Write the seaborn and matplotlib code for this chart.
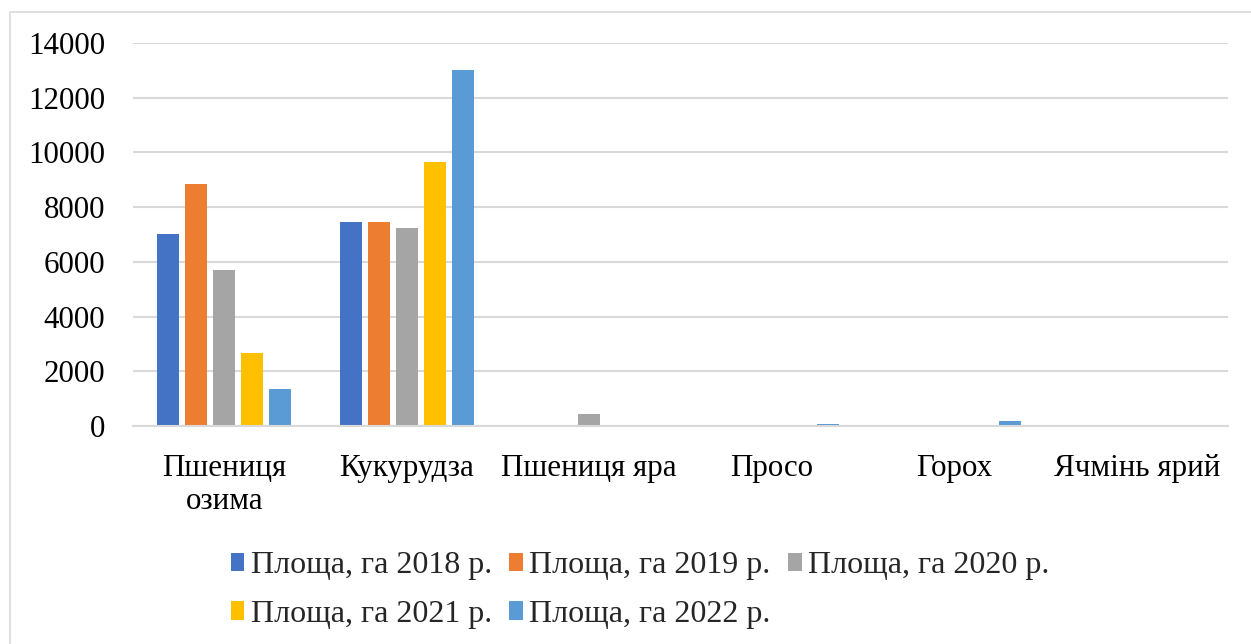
import matplotlib
matplotlib.use("Agg")
import matplotlib.pyplot as plt
import seaborn as sns
import pandas as pd
from matplotlib.patches import Rectangle

crops = ["Пшениця\nозима", "Кукурудза", "Пшениця яра", "Просо", "Горох", "Ячмінь ярий"]
series = ["Площа, га 2018 р.", "Площа, га 2019 р.", "Площа, га 2020 р.",
          "Площа, га 2021 р.", "Площа, га 2022 р."]
area_2018 = [7020, 7460, 0, 0, 0, 0]
area_2019 = [8830, 7440, 0, 0, 0, 0]
area_2020 = [5710, 7250, 450, 0, 0, 0]
area_2021 = [2680, 9650, 0, 0, 0, 0]
area_2022 = [1340, 13010, 0, 80, 170, 50]
colors = ["#4472C4", "#ED7D31", "#A5A5A5", "#FFC000", "#5B9BD5"]
yticks = [0, 2000, 4000, 6000, 8000, 10000, 12000, 14000]

rows = []
for name, vals in zip(series, [area_2018, area_2019, area_2020, area_2021, area_2022]):
    for crop, v in zip(crops, vals):
        rows.append({"crop": crop, "series": name, "area": v})
df = pd.DataFrame(rows)

sns.set_theme(style="white")
plt.rcParams["font.family"] = ["Liberation Serif", "DejaVu Serif"]

FS = 22.3
W, H = 1251, 644
fig = plt.figure(figsize=(W / 100, H / 100), dpi=100)
ax = fig.add_axes([133 / W, (H - 426) / H, (1228 - 133) / W, (426 - 43) / H])

sns.barplot(data=df, x="crop", y="area", hue="series", order=crops, hue_order=series,
            palette=colors, width=0.766, gap=0.21, linewidth=0, saturation=1,
            ax=ax, legend=True)

ax.set_ylim(0, 14000)
ax.set_xlim(-0.5, len(crops) - 0.5)
ax.set_yticks(yticks)
ax.set_yticklabels([str(t) for t in yticks])
ax.yaxis.grid(True, color="#D9D9D9", linewidth=1.5)
ax.set_axisbelow(True)
for s in ["top", "right", "left"]:
    ax.spines[s].set_visible(False)
ax.spines["bottom"].set_color("#D9D9D9")
ax.spines["bottom"].set_linewidth(1.5)
ax.tick_params(axis="y", length=0, pad=20, labelsize=FS, labelcolor="black")
ax.tick_params(axis="x", length=0, pad=20, labelsize=FS, labelcolor="black")
for lbl in ax.get_xticklabels():
    lbl.set_linespacing(1.2)
ax.set_xlabel("")
ax.set_ylabel("")

handles, labels = ax.get_legend_handles_labels()
ax.get_legend().remove()
order = [0, 3, 1, 4, 2]
fig.legend([handles[i] for i in order], [labels[i] for i in order],
           loc="center", bbox_to_anchor=(640 / W, (H - 590) / H), ncol=3,
           frameon=False, fontsize=23, handlelength=0.42, handleheight=0.5,
           handletextpad=0.2, columnspacing=0.55, labelspacing=0.62,
           borderpad=0, borderaxespad=0)

fig.patches.append(Rectangle((10 / W, -0.05), 1.2, (H - 12) / H + 0.05,
                             transform=fig.transFigure, fill=False,
                             edgecolor="#D9D9D9", linewidth=1.2))

fig.savefig("out.png", dpi=100, facecolor="white")
